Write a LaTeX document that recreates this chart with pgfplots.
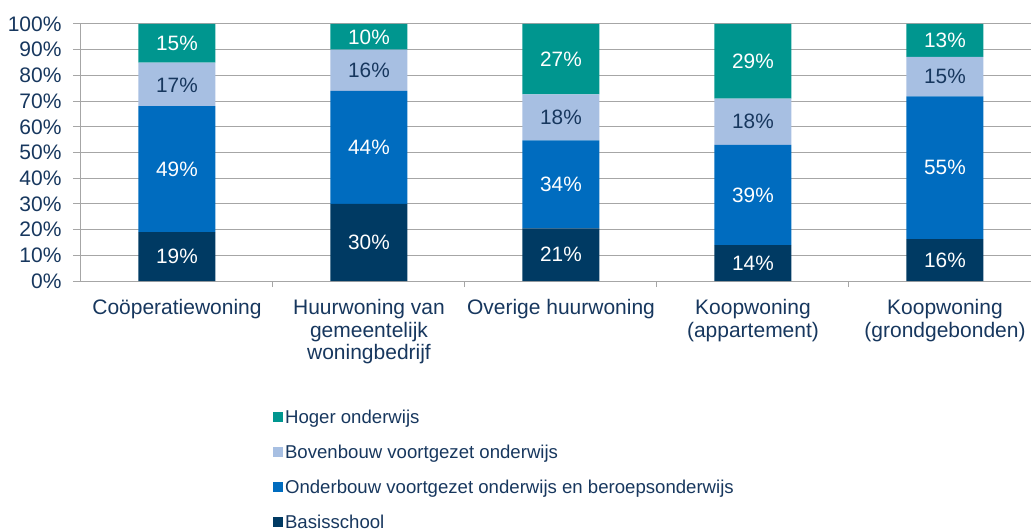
\documentclass[border=0pt]{standalone}
\usepackage{fontspec}
\setmainfont{Liberation Sans}
\usepackage{pgfplots}
\pgfplotsset{compat=1.18}
\definecolor{hoger}{RGB}{0,150,143}
\definecolor{boven}{RGB}{167,191,226}
\definecolor{onder}{RGB}{0,108,191}
\definecolor{basis}{RGB}{0,58,99}
\definecolor{txt}{RGB}{23,55,94}
\definecolor{gridc}{RGB}{166,166,166}
\newcommand{\labfont}{\fontsize{21bp}{22.5bp}\selectfont}
\newcommand{\barfont}{\fontsize{20.8bp}{23bp}\selectfont}
\newcommand{\legfont}{\fontsize{18.6bp}{21bp}\selectfont}
\tikzset{wl/.style={font=\barfont, text=white}, dl/.style={font=\barfont, text=txt}}
\pgfplotsset{frame/.style={scale only axis, width=950bp, height=257bp,
  xmin=-0.5, xmax=4.448, ymin=0, ymax=100}}

\begin{document}
\begin{tikzpicture}
\begin{axis}[
  name=ax, frame,
  ybar stacked, bar width=77bp,
  axis x line*=bottom, axis y line*=left,
  axis line style={gridc, line width=1bp},
  ymajorgrids, grid style={gridc, line width=1bp},
  ytick={0,10,...,100},
  yticklabel={\pgfmathprintnumber{\tick}\%},
  /pgf/number format/assume math mode=true,
  xtick={0,...,4},
  xticklabels={Coöperatiewoning, {Huurwoning van\\gemeentelijk\\woningbedrijf}, Overige huurwoning, {Koopwoning\\(appartement)}, {Koopwoning\\(grondgebonden)}},
  minor xtick={0.5,1.5,2.5,3.5},
  major x tick style={draw=none},
  tick align=outside,
  major tick length=8bp, minor tick length=6bp,
  tick style={gridc, line width=1bp},
  tick label style={font=\labfont, text=txt},
  yticklabel style={xshift=-8bp},
  xticklabel style={align=center, yshift=-7bp},
  reverse legend,
  legend style={at={(0.202,-0.493)}, anchor=north west, draw=none, fill=none,
    font=\legfont, text=txt, legend cell align=left, row sep=16bp, inner sep=0pt},
  legend image code/.code={\fill[#1] (0bp,-5bp) rectangle (10bp,5bp);},
]
\addplot[fill=basis, draw=none] coordinates {(0,19) (1,30) (2,20.5) (3,14) (4,16.3)};
\addplot[fill=onder, draw=none] coordinates {(0,49) (1,44) (2,34.2) (3,39) (4,55.5)};
\addplot[fill=boven, draw=none] coordinates {(0,17) (1,16) (2,17.9) (3,18) (4,15.4)};
\addplot[fill=hoger, draw=none] coordinates {(0,15) (1,10) (2,27.4) (3,29) (4,12.8)};
\legend{Basisschool, Onderbouw voortgezet onderwijs en beroepsonderwijs, Bovenbouw voortgezet onderwijs, Hoger onderwijs}
\end{axis}
% segment labels in an overlay axis with the same frame
\begin{axis}[frame, at={(ax.south west)}, anchor=south west, hide axis]
\node[wl] at (axis cs:0,9.5) {19\%};
\node[wl] at (axis cs:1,15) {30\%};
\node[wl] at (axis cs:2,10.25) {21\%};
\node[wl] at (axis cs:3,7) {14\%};
\node[wl] at (axis cs:4,8.15) {16\%};
\node[wl] at (axis cs:0,43.5) {49\%};
\node[wl] at (axis cs:1,52) {44\%};
\node[wl] at (axis cs:2,37.6) {34\%};
\node[wl] at (axis cs:3,33.5) {39\%};
\node[wl] at (axis cs:4,44.05) {55\%};
\node[wl] at (axis cs:0,92.5) {15\%};
\node[wl] at (axis cs:1,95) {10\%};
\node[wl] at (axis cs:2,86.3) {27\%};
\node[wl] at (axis cs:3,85.5) {29\%};
\node[wl] at (axis cs:4,93.6) {13\%};
\node[dl] at (axis cs:0,76) {17\%};
\node[dl] at (axis cs:1,82) {16\%};
\node[dl] at (axis cs:2,63.65) {18\%};
\node[dl] at (axis cs:3,62) {18\%};
\node[dl] at (axis cs:4,79.5) {15\%};
\end{axis}
\pgfresetboundingbox
\path ([shift={(-81bp,-250bp)}]ax.south west) rectangle ([shift={(0bp,24bp)}]ax.north east);
\end{tikzpicture}
\end{document}
